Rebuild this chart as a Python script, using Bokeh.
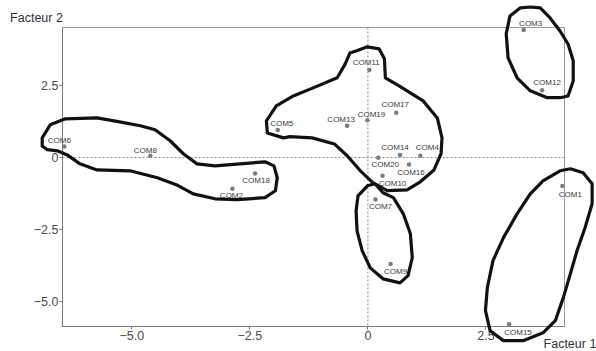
from bokeh.plotting import figure
from bokeh.models import ColumnDataSource, FixedTicker, Span
from bokeh.core.properties import value
from bokeh.embed import file_html
from bokeh.resources import INLINE

# ---- data -----------------------------------------------------------------
names = ["COM1", "COM2", "COM3", "COM4", "COM5", "COM6", "COM7", "COM8", "COM9", "COM10",
         "COM11", "COM12", "COM13", "COM14", "COM15", "COM16", "COM17", "COM18", "COM19", "COM20"]
facteur1 = [4.12, -2.87, 3.30, 1.11, -1.91, -6.43, 0.16, -4.61, 0.48, 0.31,
            0.03, 3.69, -0.44, 0.68, 2.99, 0.87, 0.60, -2.39, -0.01, 0.22]
facteur2 = [-0.99, -1.08, 4.41, 0.06, 0.95, 0.38, -1.45, 0.06, -3.69, -0.63,
            3.03, 2.33, 1.10, 0.09, -5.77, -0.24, 1.55, -0.55, 1.29, -0.01]
# label offsets (screen px) relative to each point
label_dx = [8, -1, 7, 7, 4, -5, 5, -5, 5, 10, -3, 5, -6, -5, 9, 2, -1, 1, 4, 7]
label_dy = [8, 7, -7, -8, -7, -6, 7, -5, 7, 8, -7, -8, -6, -7, 8, 8, -8, 7, -6, 7]

tick_values = [-5.0, -2.5, 0.0, 2.5]
tick_labels = ["\u22125.0", "\u22122.5", "0", "2.5"]

axis_titles = ["Facteur 2", "Facteur 1"]

# hand-drawn group outlines (data coordinates)
groupA_x = [-6.90, -6.73, -6.41, -5.74, -5.29, -4.82, -4.51, -4.19, -3.91, -3.62, -3.24, -2.71, -2.18, -1.99,
            -1.92, -1.96, -2.18, -2.77, -3.24, -3.70, -4.06, -4.46, -5.04, -5.74, -6.10, -6.37, -6.58, -6.79, -6.90]
groupA_y = [0.68, 1.13, 1.34, 1.37, 1.24, 1.10, 0.96, 0.58, 0.13, -0.22, -0.29, -0.22, -0.15, -0.29,
            -0.70, -1.15, -1.39, -1.46, -1.43, -1.26, -0.94, -0.70, -0.46, -0.43, -0.22, 0.09, 0.23, 0.27, 0.40]
groupB_x = [-0.25, -0.01, 0.24, 0.35, 0.37, 0.66, 1.17, 1.47, 1.57, 1.55, 1.40, 1.11, 0.83, 0.41, 0.11,
            -0.16, -0.44, -0.71, -1.18, -1.65, -1.79, -2.13, -2.15, -1.94, -1.58, -1.16, -0.65, -0.48, -0.38]
groupB_y = [3.69, 3.83, 3.76, 3.42, 2.76, 2.48, 1.96, 1.37, 0.68, 0.13, -0.43, -0.84, -1.12, -1.15, -0.88,
            -0.46, 0.06, 0.47, 0.68, 0.72, 0.68, 0.85, 1.27, 1.79, 2.13, 2.41, 2.76, 3.24, 3.62]
groupC_x = [-0.01, 0.15, 0.32, 0.54, 0.75, 0.90, 0.94, 0.85, 0.68, 0.32, 0.05, -0.12, -0.23, -0.25, -0.21]
groupC_y = [-0.98, -0.91, -1.22, -1.39, -1.95, -2.64, -3.47, -4.09, -4.34, -4.20, -3.82, -3.23, -2.54, -1.84, -1.33]
groupD_x = [3.23, 3.44, 3.65, 3.86, 4.07, 4.24, 4.35, 4.35, 4.24, 4.07, 3.80, 3.44, 3.16, 2.97, 2.93, 3.01]
groupD_y = [5.18, 5.21, 5.18, 4.83, 4.38, 3.93, 3.35, 2.65, 2.13, 2.07, 2.07, 2.31, 2.76, 3.45, 4.28, 4.90]
groupE_x = [3.71, 4.07, 4.29, 4.56, 4.75, 4.75, 4.60, 4.43, 4.29, 4.14, 3.97, 3.71, 3.29, 2.87, 2.59,
            2.49, 2.53, 2.65, 2.87, 3.16, 3.44]
groupE_y = [-0.81, -0.46, -0.39, -0.53, -0.91, -1.60, -2.43, -3.23, -4.02, -4.85, -5.65, -6.07, -6.34, -6.34, -6.00,
            -5.30, -4.51, -3.57, -2.78, -1.95, -1.26]

x_limits = (-6.47, 4.165)
y_limits = (-5.85, 4.50)

FONT = "Liberation Sans"

# ---- figure -----------------------------------------------------------------
p = figure(width=596, height=351, output_backend="svg", toolbar_location=None,
           x_range=x_limits, y_range=y_limits,
           min_border_left=62, min_border_right=32, min_border_top=27, min_border_bottom=25)
p.grid.visible = False
p.outline_line_color = "#9a9a9a"
p.outline_line_width = 1
p.background_fill_color = "white"
p.border_fill_color = "white"

for ax in (p.xaxis[0], p.yaxis[0]):
    ax.ticker = FixedTicker(ticks=tick_values)
    ax.major_label_overrides = dict(zip(tick_values, tick_labels))
    ax.minor_tick_line_color = None
    ax.major_tick_in = 0
    ax.major_tick_out = 3
    ax.major_label_standoff = 1
    ax.axis_line_color = "#7a7a7a"
    ax.major_tick_line_color = "#7a7a7a"
    ax.major_label_text_font = FONT
    ax.major_label_text_font_size = "12.5px"
    ax.major_label_text_color = "#4a4a4a"

# zero reference lines
p.add_layout(Span(location=0, dimension="height", line_color="#888888", line_width=1, line_dash="2 2"))
p.add_layout(Span(location=0, dimension="width", line_color="#888888", line_width=1, line_dash="2 2"))

# outlines
groups_x = [groupA_x, groupB_x, groupC_x, groupD_x, groupE_x]
groups_y = [groupA_y, groupB_y, groupC_y, groupD_y, groupE_y]
closed_x = [gx + [gx[0]] for gx in groups_x]
closed_y = [gy + [gy[0]] for gy in groups_y]
ol = p.multi_line(xs=closed_x, ys=closed_y, line_color="#111111", line_width=3.2,
                  line_join="round", line_cap="round")
ol.level = "overlay"

# points + labels
src = ColumnDataSource(dict(x=facteur1, y=facteur2, name=names, dx=label_dx, dy=label_dy))
p.scatter("x", "y", source=src, size=4.5, color="#7c7c7c", line_color=None)
tr = p.text("x", "y", text="name", source=src, x_offset="dx", y_offset="dy",
            text_align="center", text_baseline="middle", text_font_size="8px",
            text_font=value(FONT), text_color="#3a3a3a")
tr.level = "overlay"

# axis titles (placed outside the frame, top-left and bottom-right)
tsrc = ColumnDataSource(dict(x=[x_limits[0] - 1.11, x_limits[1] + 0.675],
                             y=[y_limits[1] + 0.33, y_limits[0] - 0.60],
                             t=axis_titles, a=["left", "right"]))
tt = p.text("x", "y", text="t", source=tsrc, text_align="a", text_baseline="middle",
            text_font=value(FONT), text_font_size="12.5px", text_color="#333333")
tt.level = "overlay"

open("out.html", "w").write(file_html(p, INLINE))
